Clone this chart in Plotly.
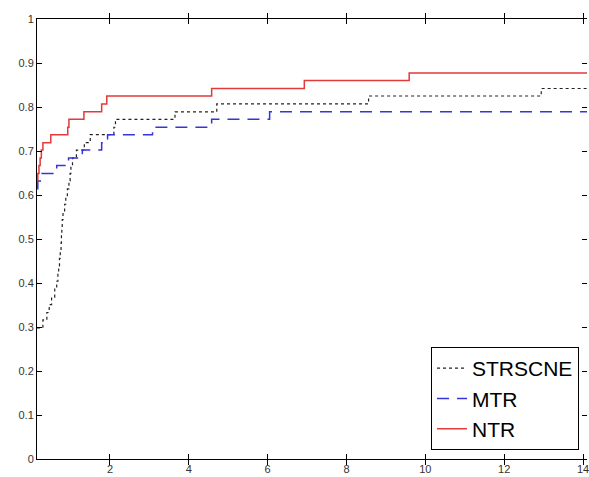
import plotly.graph_objects as go

# Cumulative fraction of solved problems versus time for three solvers
strscne_x = [0.15, 0.30, 0.40, 0.46, 0.52, 0.60, 0.65, 0.68, 0.70, 0.72, 0.74, 0.76,
             0.77, 0.78, 0.79, 0.81, 0.85, 0.88, 0.92, 0.96, 0.99, 1.01, 1.05, 1.15,
             1.35, 1.50, 2.10, 2.14, 3.65, 4.71, 8.56, 12.94, 14.1]
strscne_y = [0.298, 0.316, 0.333, 0.351, 0.368, 0.386, 0.404, 0.421, 0.439, 0.456,
             0.474, 0.491, 0.509, 0.526, 0.544, 0.561, 0.579, 0.596, 0.614, 0.632,
             0.649, 0.667, 0.684, 0.702, 0.719, 0.737, 0.754, 0.772, 0.789, 0.807,
             0.825, 0.842, 0.842]

mtr_x = [0.15, 0.17, 0.27, 0.65, 0.95, 1.30, 1.79, 1.94, 3.08, 4.58, 6.05, 14.1]
mtr_y = [0.614, 0.632, 0.649, 0.667, 0.684, 0.702, 0.719, 0.737, 0.754, 0.772, 0.789, 0.789]

ntr_x = [0.15, 0.17, 0.20, 0.23, 0.26, 0.30, 0.50, 0.93, 0.96, 1.34, 1.79, 1.92,
         4.58, 6.93, 9.59, 14.1]
ntr_y = [0.632, 0.649, 0.667, 0.684, 0.702, 0.719, 0.737, 0.754, 0.772, 0.789,
         0.807, 0.825, 0.842, 0.860, 0.877, 0.877]

x_ticks = [2, 4, 6, 8, 10, 12, 14]
y_ticks = [0, 0.1, 0.2, 0.3, 0.4, 0.5, 0.6, 0.7, 0.8, 0.9, 1]
y_tick_text = ["0", "0.1", "0.2", "0.3", "0.4", "0.5", "0.6", "0.7", "0.8", "0.9", "1"]

fig = go.Figure()
fig.add_trace(go.Scatter(x=strscne_x, y=strscne_y, mode="lines", name="STRSCNE",
                         line=dict(shape="hv", color="#222222", width=1.2, dash="dot")))
fig.add_trace(go.Scatter(x=mtr_x, y=mtr_y, mode="lines", name="MTR",
                         line=dict(shape="hv", color="#3535d8", width=1.5, dash="12px,8px")))
fig.add_trace(go.Scatter(x=ntr_x, y=ntr_y, mode="lines", name="NTR",
                         line=dict(shape="hv", color="#e23a3a", width=1.5)))

tick_font = dict(family="Liberation Sans, Arial, sans-serif", size=11, color="#333333")

fig.update_layout(
    width=589, height=477,
    margin=dict(l=37, r=0, t=19, b=18),
    paper_bgcolor="white", plot_bgcolor="white",
    showlegend=True,
    legend=dict(
        x=0.9855, y=0.0205, xanchor="right", yanchor="bottom",
        bgcolor="white", bordercolor="black", borderwidth=1,
        font=dict(family="Liberation Sans, Arial, sans-serif", size=21, color="black"),
        tracegroupgap=0, itemwidth=30,
    ),
    xaxis=dict(range=[0.15, 14.1], tickvals=x_ticks, ticktext=[str(v) for v in x_ticks],
               showgrid=False, zeroline=False, showline=True, linecolor="black",
               linewidth=1, ticks="inside", ticklen=5, tickcolor="black",
               mirror="allticks", tickfont=tick_font, ticklabeloverflow="allow"),
    yaxis=dict(range=[0, 1], tickvals=y_ticks, ticktext=y_tick_text,
               showgrid=False, zeroline=False, showline=True, linecolor="black",
               linewidth=1, ticks="inside", ticklen=5, tickcolor="black",
               mirror=False, tickfont=tick_font),
    # right-hand tick marks of the box (the frame edge itself lies past the page)
    yaxis2=dict(range=[0, 1], overlaying="y", side="right", tickvals=y_ticks,
                showticklabels=False, showgrid=False, zeroline=False, showline=False,
                ticks="inside", ticklen=5, tickcolor="black"),
)
# invisible carrier so the right-hand axis is drawn
fig.add_trace(go.Scatter(x=[], y=[], yaxis="y2", showlegend=False, hoverinfo="skip"))

fig.write_html("out.html")
